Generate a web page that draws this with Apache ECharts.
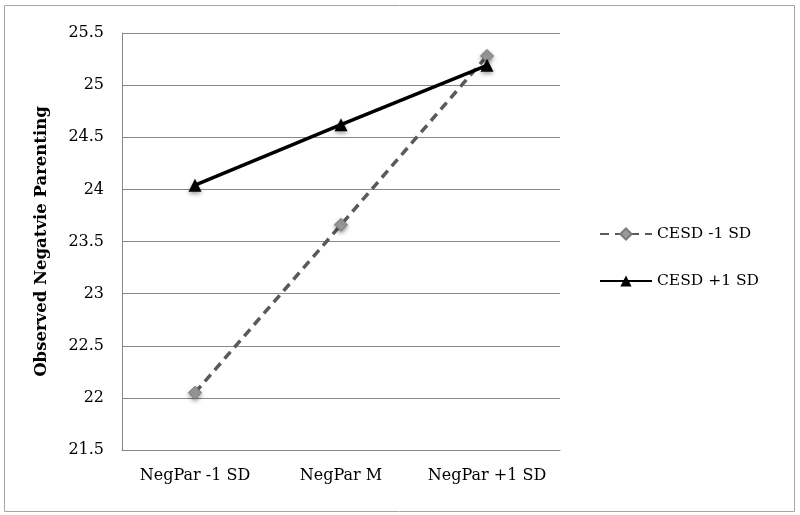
<!DOCTYPE html>
<html><head><meta charset="utf-8">
<script src="https://cdn.jsdelivr.net/npm/echarts@6/dist/echarts.min.js"></script>
<style>html,body{margin:0;padding:0;background:#fff}#c{width:800px;height:515px}</style>
</head><body><div id="c"></div>
<script>
const categories = ['NegPar -1 SD', 'NegPar M', 'NegPar +1 SD'];
const cesdLow = [22.05, 23.66, 25.28];
const cesdHigh = [24.04, 24.62, 25.19];
const seriesNames = ['CESD -1 SD', 'CESD +1 SD'];
const yTitle = 'Observed Negatvie Parenting';

const font = 'DejaVu Serif';
const chart = echarts.init(document.getElementById('c'));
chart.setOption({
  backgroundColor: '#fff',
  animation: false,
  graphic: [{type:'rect', shape:{x:4.5,y:5.5,width:790,height:506}, style:{fill:'none', stroke:'#a6a6a6', lineWidth:1}}],
  grid: {left:122, right:240, top:33, bottom:65},
  legend: {
    orient:'vertical', left:594, top:221, itemGap:31, itemWidth:52, itemHeight:14,
    textStyle:{fontFamily:font, fontSize:15.5, color:'#000'},
    data: seriesNames
  },
  xAxis: {
    type:'category', data:categories, boundaryGap:true,
    axisLine:{lineStyle:{color:'#888'}}, axisTick:{show:false},
    axisLabel:{fontFamily:font, fontSize:16, color:'#000', margin:18, interval:0, hideOverlap:false}
  },
  yAxis: {
    type:'value', min:21.5, max:25.5, interval:0.5,
    name: yTitle, nameLocation:'middle', nameGap:72,
    nameTextStyle:{fontFamily:font, fontSize:16.5, fontWeight:'bold', color:'#000'},
    axisLine:{show:true, lineStyle:{color:'#888'}}, axisTick:{show:false},
    splitLine:{lineStyle:{color:'#888'}},
    axisLabel:{fontFamily:font, fontSize:16, color:'#000', margin:18}
  },
  series: [
    {name:seriesNames[0], type:'line', data:cesdLow, symbol:'diamond', symbolSize:13,
     lineStyle:{color:'#5a5a5a', width:3.5, type:[9,6]},
     itemStyle:{color:'#9a9a9a', borderColor:'#7a7a7a', borderWidth:1, shadowBlur:4, shadowColor:'rgba(0,0,0,0.4)', shadowOffsetY:2}},
    {name:seriesNames[1], type:'line', data:cesdHigh, symbol:'triangle', symbolSize:13,
     lineStyle:{color:'#000', width:3.5},
     itemStyle:{color:'#000', shadowBlur:4, shadowColor:'rgba(0,0,0,0.4)', shadowOffsetY:2}}
  ]
});
</script></body></html>
